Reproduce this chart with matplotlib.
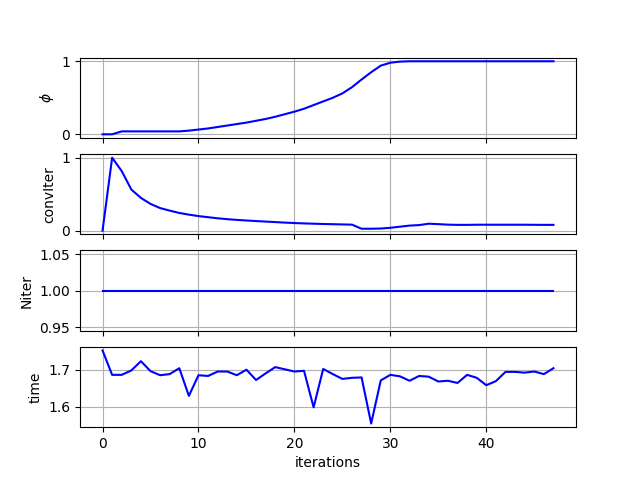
import numpy as np
import matplotlib
matplotlib.use("Agg")
import matplotlib.pyplot as plt

iterations = np.arange(48)

phi = [0.0, 0.0, 0.04, 0.04, 0.04, 0.04, 0.04, 0.04, 0.04, 0.05,
       0.065, 0.08, 0.10, 0.12, 0.14, 0.16, 0.185, 0.21, 0.24, 0.275,
       0.31, 0.35, 0.40, 0.45, 0.50, 0.56, 0.645, 0.75, 0.85, 0.94,
       0.98, 0.995, 1.0, 1.0, 1.0, 1.0, 1.0, 1.0, 1.0, 1.0,
       1.0, 1.0, 1.0, 1.0, 1.0, 1.0, 1.0, 1.0]

conviter = [0.0, 1.0, 0.816, 0.564, 0.449, 0.367, 0.31, 0.275, 0.243, 0.22,
            0.2, 0.185, 0.17, 0.158, 0.148, 0.14, 0.132, 0.125, 0.118, 0.111,
            0.105, 0.1, 0.096, 0.092, 0.089, 0.086, 0.083, 0.027, 0.027, 0.03,
            0.04, 0.055, 0.07, 0.077, 0.096, 0.09, 0.083, 0.08, 0.08, 0.082,
            0.082, 0.082, 0.082, 0.082, 0.082, 0.081, 0.08, 0.08]

niter = [1.0] * 48

time = [1.752, 1.686, 1.686, 1.698, 1.723, 1.696, 1.685, 1.688, 1.704, 1.629,
        1.685, 1.683, 1.695, 1.695, 1.685, 1.700, 1.672, 1.690, 1.707, 1.701,
        1.695, 1.697, 1.598, 1.702, 1.688, 1.675, 1.678, 1.679, 1.554, 1.671,
        1.686, 1.682, 1.670, 1.683, 1.681, 1.668, 1.670, 1.664, 1.686, 1.678,
        1.658, 1.669, 1.694, 1.694, 1.692, 1.695, 1.688, 1.704]

fig, axs = plt.subplots(4, 1, sharex=True, figsize=(6.4, 4.8), dpi=100)

axs[0].plot(iterations, phi, 'b')
axs[0].set_ylabel(r'$\phi$')
axs[0].set_yticks([0, 1])

axs[1].plot(iterations, conviter, 'b')
axs[1].set_ylabel('convIter')
axs[1].set_yticks([0, 1])

axs[2].plot(iterations, niter, 'b')
axs[2].set_ylabel('Niter')

axs[3].plot(iterations, time, 'b')
axs[3].set_ylabel('time')
axs[3].set_xlabel('iterations')

for ax in axs:
    ax.grid(True)

plt.savefig('out.png')
